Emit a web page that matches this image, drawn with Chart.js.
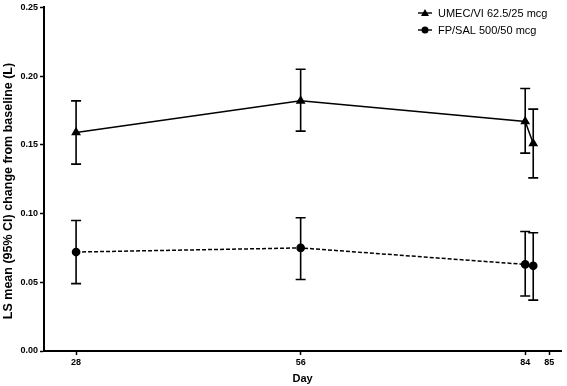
<!DOCTYPE html>
<html>
<head>
<meta charset="utf-8">
<script src="https://cdn.jsdelivr.net/npm/chart.js@4.4.1/dist/chart.umd.min.js"></script>
<style>
html,body{margin:0;padding:0;background:#fff;}
#wrap{width:567px;height:386px;position:relative;}
</style>
</head>
<body>
<div id="wrap"><canvas id="c" width="567" height="386"></canvas></div>
<script>
// ---- data ----
const days = [28, 56, 84, 85];
const seriesNames = ['UMEC/VI 62.5/25 mcg', 'FP/SAL 500/50 mcg'];
const umecMean  = [0.159, 0.182, 0.167, 0.151];
const umecLower = [0.136, 0.160, 0.144, 0.126];
const umecUpper = [0.182, 0.205, 0.191, 0.176];
const fpMean  = [0.072, 0.075, 0.063, 0.062];
const fpLower = [0.049, 0.052, 0.040, 0.037];
const fpUpper = [0.095, 0.097, 0.087, 0.086];
const xTickValues = [28, 56, 84, 87];
const xTickLabels = ['28', '56', '84', '85'];
const yTickValues = [0, 0.05, 0.10, 0.15, 0.20, 0.25];
const xTitle = 'Day';
const yTitle = 'LS mean (95% CI) change from baseline (L)';

const FONT = '"Liberation Sans", Arial, sans-serif';

const errorBars = {
  id: 'errorBars',
  afterDatasetsDraw(chart) {
    const ctx = chart.ctx;
    const y = chart.scales.y;
    chart.data.datasets.forEach((ds, di) => {
      const meta = chart.getDatasetMeta(di);
      meta.data.forEach((pt, i) => {
        const x = pt.x;
        const yl = y.getPixelForValue(ds.lower[i]);
        const yu = y.getPixelForValue(ds.upper[i]);
        ctx.save();
        ctx.strokeStyle = '#000';
        ctx.lineWidth = 1.6;
        ctx.beginPath();
        ctx.moveTo(x, yl); ctx.lineTo(x, yu);
        ctx.moveTo(x - 5, yl); ctx.lineTo(x + 5, yl);
        ctx.moveTo(x - 5, yu); ctx.lineTo(x + 5, yu);
        ctx.stroke();
        ctx.restore();
      });
    });
  }
};

const customLegend = {
  id: 'customLegend',
  afterDraw(chart) {
    const ctx = chart.ctx;
    const rows = [13, 30];
    chart.data.datasets.forEach((ds, di) => {
      const yy = rows[di];
      ctx.save();
      ctx.strokeStyle = '#000';
      ctx.fillStyle = '#000';
      ctx.lineWidth = 1.4;
      ctx.beginPath();
      ctx.moveTo(418, yy); ctx.lineTo(432, yy);
      ctx.stroke();
      ctx.beginPath();
      if (ds.pointStyle === 'triangle') {
        ctx.moveTo(425, yy - 4); ctx.lineTo(429, yy + 3); ctx.lineTo(421, yy + 3); ctx.closePath();
      } else {
        ctx.arc(425, yy, 3.5, 0, Math.PI * 2);
      }
      ctx.fill();
      ctx.font = '11px ' + FONT;
      ctx.textBaseline = 'middle';
      ctx.fillText(ds.label, 438, yy + 0.5);
      ctx.restore();
    });
  }
};

const yTitlePlugin = {
  id: 'yTitlePlugin',
  afterDraw(chart) {
    const ctx = chart.ctx;
    ctx.save();
    ctx.translate(8.5, 191);
    ctx.rotate(-Math.PI / 2);
    ctx.font = 'bold 12.5px ' + FONT;
    ctx.fillStyle = '#000';
    ctx.textAlign = 'center';
    ctx.textBaseline = 'middle';
    ctx.fillText(yTitle, 0, 0);
    ctx.restore();
  }
};

new Chart(document.getElementById('c'), {
  type: 'line',
  data: {
    datasets: [
      {
        label: seriesNames[0],
        data: days.map((d, i) => ({ x: d, y: umecMean[i] })),
        lower: umecLower, upper: umecUpper,
        borderColor: '#000', backgroundColor: '#000',
        borderWidth: 1.5, pointStyle: 'triangle', pointRadius: 4.2,
        tension: 0, fill: false
      },
      {
        label: seriesNames[1],
        data: days.map((d, i) => ({ x: d, y: fpMean[i] })),
        lower: fpLower, upper: fpUpper,
        borderColor: '#000', backgroundColor: '#000',
        borderWidth: 1.5, borderDash: [4, 2], pointStyle: 'circle', pointRadius: 3.6,
        tension: 0, fill: false
      }
    ]
  },
  options: {
    responsive: false,
    animation: false,
    events: [],
    layout: { padding: { top: 4, right: 5, left: 0, bottom: 0 } },
    plugins: { legend: { display: false }, tooltip: { enabled: false } },
    scales: {
      x: {
        type: 'linear', min: 24, max: 88.5,
        afterBuildTicks: s => { s.ticks = xTickValues.map(v => ({ value: v })); },
        afterFit: s => { s.height = 35; },
        ticks: {
          color: '#000', font: { family: FONT, size: 9, weight: 'bold' }, padding: 2,
          maxRotation: 0, autoSkip: false,
          callback: (v) => xTickLabels[xTickValues.indexOf(v)]
        },
        grid: { drawOnChartArea: false, color: '#000', tickLength: 4, tickWidth: 1.5 },
        border: { color: '#000', width: 2 },
        title: { display: true, text: xTitle, color: '#000', font: { family: FONT, size: 11, weight: 'bold' }, padding: { top: 4, bottom: 0 } }
      },
      y: {
        min: 0, max: 0.25,
        afterBuildTicks: s => { s.ticks = yTickValues.map(v => ({ value: v })); },
        afterFit: s => { s.width = 44; },
        ticks: {
          color: '#000', font: { family: FONT, size: 9, weight: 'bold' }, padding: 2,
          callback: v => v.toFixed(2)
        },
        grid: { drawOnChartArea: false, color: '#000', tickLength: 4, tickWidth: 1.5 },
        border: { color: '#000', width: 2 },
        title: { display: false }
      }
    }
  },
  plugins: [errorBars, customLegend, yTitlePlugin]
});
</script>
</body>
</html>
